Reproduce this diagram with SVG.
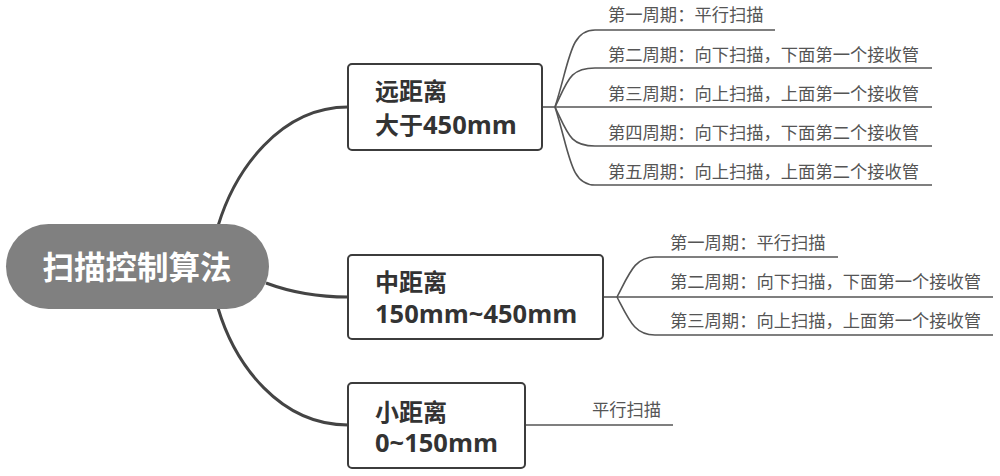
<svg xmlns="http://www.w3.org/2000/svg" width="1000" height="476" viewBox="0 0 1000 476">
<style>
.root{fill:#808080}
.rootText{font-family:"Noto Sans CJK SC","Noto Sans",sans-serif;font-weight:bold;font-size:31.5px;fill:#fff}
.box{fill:#fff;stroke:#3c3c3c;stroke-width:2}
.boxText{font-family:"Noto Sans CJK SC","Noto Sans",sans-serif;font-weight:bold;font-size:24px;fill:#333}
.lat{font-family:"Open Sans","Noto Sans CJK SC",sans-serif;font-size:25.5px}
.main{fill:none;stroke:#444;stroke-width:3}
.branch{fill:none;stroke:#555;stroke-width:1.6}
.leaf{font-family:"Noto Sans CJK SC","Noto Sans",sans-serif;font-size:17.3px;fill:#555}
</style>
<rect width="1000" height="476" fill="#fff"/>
<g id="connectors">
<path class="main" d="M218 226 C235 170 280 107 348 107"/>
<path class="main" d="M266 283 C290 292 320 297 348 297"/>
<path class="main" d="M218 308 C235 365 280 425 348 425"/>
<path class="branch" d="M542 107 L555 107"/>
<path class="branch" d="M555 107 C570 60 570 30 595 30 L775 30"/>
<path class="branch" d="M555 107 C568 80 570 68 595 68 L932 68"/>
<path class="branch" d="M555 107 L932 107"/>
<path class="branch" d="M555 107 C568 134 570 146 595 146 L932 146"/>
<path class="branch" d="M555 107 C570 154 570 185 595 185 L932 185"/>
<path class="branch" d="M603 297 L617 297"/>
<path class="branch" d="M617 297 C630 272 635 257 655 257 L838 257"/>
<path class="branch" d="M617 297 L993 297"/>
<path class="branch" d="M617 297 C630 322 635 335 655 335 L993 335"/>
<path class="branch" d="M525 425 L673 425"/>
</g>
<g id="root">
<rect class="root" x="6" y="224" width="263" height="85" rx="42.5"/>
<text class="rootText" x="137" y="279" text-anchor="middle">扫描控制算法</text>
</g>
<g id="far">
<rect class="box" x="348" y="64" width="194" height="86" rx="4"/>
<text class="boxText" x="375" y="100">远距离</text>
<text class="boxText" x="375" y="134">大于<tspan class="lat">450mm</tspan></text>
</g>
<g id="mid">
<rect class="box" x="348" y="255" width="255" height="84" rx="4"/>
<text class="boxText" x="375" y="291">中距离</text>
<text class="boxText" x="375" y="323"><tspan class="lat">150mm~450mm</tspan></text>
</g>
<g id="near">
<rect class="box" x="348" y="383" width="177" height="85" rx="4"/>
<text class="boxText" x="375" y="421">小距离</text>
<text class="boxText" x="375" y="452"><tspan class="lat">0~150mm</tspan></text>
</g>
<g id="far-leaves">
<text class="leaf" x="608" y="21">第一周期：平行扫描</text>
<text class="leaf" x="608" y="61">第二周期：向下扫描，下面第一个接收管</text>
<text class="leaf" x="608" y="100">第三周期：向上扫描，上面第一个接收管</text>
<text class="leaf" x="608" y="139">第四周期：向下扫描，下面第二个接收管</text>
<text class="leaf" x="608" y="178">第五周期：向上扫描，上面第二个接收管</text>
</g>
<g id="mid-leaves">
<text class="leaf" x="670" y="249">第一周期：平行扫描</text>
<text class="leaf" x="670" y="288">第二周期：向下扫描，下面第一个接收管</text>
<text class="leaf" x="670" y="327">第三周期：向上扫描，上面第一个接收管</text>
</g>
<g id="near-leaves">
<text class="leaf" x="592" y="416">平行扫描</text>
</g>
</svg>
